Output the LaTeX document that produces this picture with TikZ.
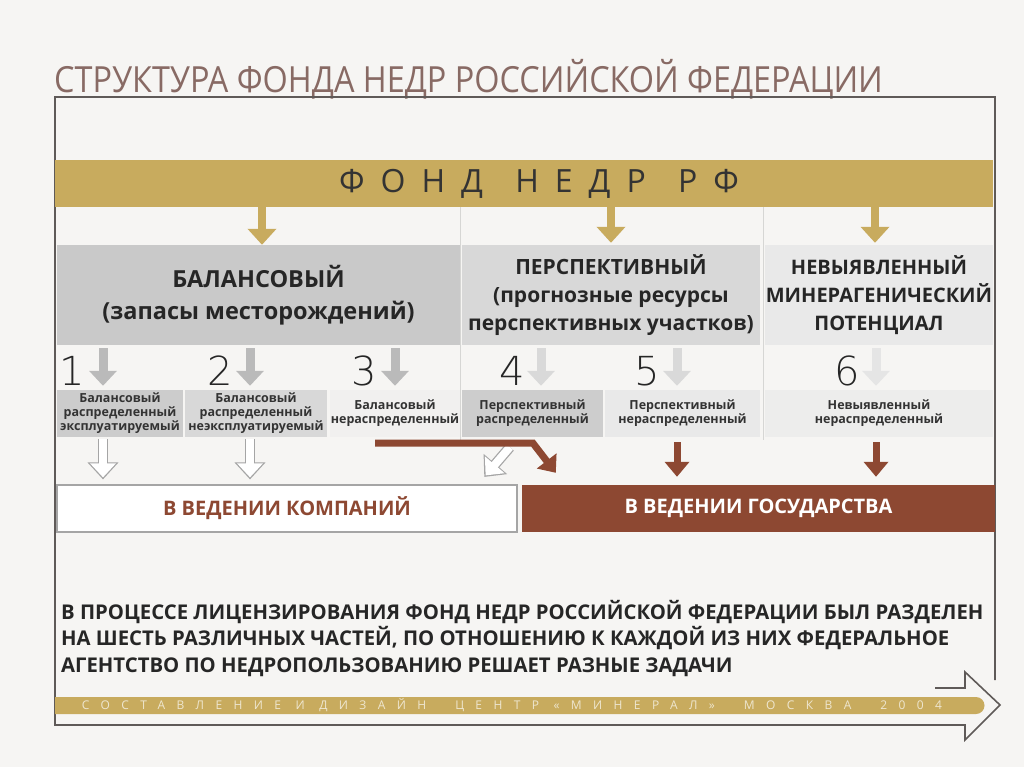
\documentclass[tikz,border=0pt]{standalone}
\usepackage{fontspec}
\setmainfont{Open Sans}
\newfontfamily\titlefont[FakeStretch=0.9]{Open Sans}
\newfontfamily\spacedfont[LetterSpace=50]{Open Sans}
\newfontfamily\footfont[LetterSpace=95]{Open Sans}
\newfontfamily\thinfont{DejaVu Sans ExtraLight}
\usetikzlibrary{calc}
\usetikzlibrary{positioning}
\usetikzlibrary{arrows.meta}
\definecolor{bgcol}{RGB}{246,245,243}
\definecolor{goldcol}{RGB}{200,171,94}
\definecolor{browncol}{RGB}{141,72,50}
\definecolor{titlecol}{RGB}{136,106,100}
\definecolor{framecol}{RGB}{95,90,88}
\definecolor{sepcol}{RGB}{214,214,212}
\definecolor{greyA}{RGB}{201,201,201}
\definecolor{greyB}{RGB}{216,216,216}
\definecolor{greyC}{RGB}{233,233,233}
\definecolor{hollowcol}{RGB}{165,165,165}
\tikzstyle{bigbox} = [minimum height=100pt, inner sep=0pt, align=center, text=black!85, font=\bfseries\fontsize{21}{28}\selectfont]
\tikzstyle{smallbox} = [minimum height=47pt, inner sep=0pt, align=center, text=black!80, font=\bfseries\fontsize{12.5}{14}\selectfont]
\tikzstyle{numnode} = [inner sep=0pt, text=black!85, font=\thinfont\fontsize{40}{40}\selectfont]
\tikzstyle{greyarrow} = [line width=9pt, -{Triangle[width=27pt,length=15pt]}]
\tikzstyle{goldarrow} = [goldcol, line width=8pt, -{Triangle[width=28pt,length=16pt]}]
\tikzstyle{brownarrow} = [browncol, line width=7pt, -{Triangle[width=24pt,length=15pt]}]
\tikzstyle{hollow} = [white, line width=8pt, -{Triangle[width=25pt,length=14pt]},
  preaction={draw=hollowcol, line width=10.5pt, -{Triangle[width=30pt,length=17pt]}, shorten >=-2pt}]
\tikzstyle{careof} = [minimum width=0pt, minimum height=47pt, inner sep=0pt, font=\bfseries\fontsize{20}{20}\selectfont]
\begin{document}
\begin{tikzpicture}[x=1pt, y=-1pt]
    \useasboundingbox (0,0) rectangle (1024,767);
    \fill[bgcol] (0,0) rectangle (1024,767);

    % title and frame
    \node[anchor=base west, inner sep=0pt, text=titlecol, font=\titlefont\fontsize{36}{36}\selectfont]
      (title) at (54,93) {СТРУКТУРА ФОНДА НЕДР РОССИЙСКОЙ ФЕДЕРАЦИИ};
    \draw[framecol, line width=1.6pt] (995,680) -- (995,97) -- (55,97) -- (55,725) -- (965,725)
      -- (965,740) -- (1000,705) -- (965,672) -- (965,688) -- (935,688);

    % fund bar
    \node[fill=goldcol, minimum width=938pt, minimum height=47pt, inner sep=0pt, text=black!80,
      font=\spacedfont\fontsize{32}{32}\selectfont] (fund) at (524,183.5)
      {\hspace*{30pt}ФОНД\hspace{8pt} НЕДР\hspace{8pt} РФ};

    % separators
    \draw[sepcol, line width=1pt] (460,207) -- (460,440);
    \draw[sepcol, line width=1pt] (763,207) -- (763,440);

    % main groups
    \node[bigbox, fill=greyA, minimum width=403pt, font=\bfseries\fontsize{23.5}{32}\selectfont]
      (bal) at (258.5,295) {БАЛАНСОВЫЙ\\(запасы месторождений)};
    \node[bigbox, fill=greyB, minimum width=298pt] (persp) at (611,295)
      {ПЕРСПЕКТИВНЫЙ\\(прогнозные ресурсы\\перспективных участков)};
    \node[bigbox, fill=greyC, minimum width=228pt, font=\bfseries\fontsize{20}{28}\selectfont]
      (nevy) at (879,295) {НЕВЫЯВЛЕННЫЙ\\МИНЕРАГЕНИЧЕСКИЙ\\ПОТЕНЦИАЛ};
    \draw[goldarrow] (fund.south -| 262,0) -- (bal.north -| 262,0);
    \draw[goldarrow] (fund.south -| persp.north) -- ($(persp.north)+(0,-2)$);
    \draw[goldarrow] (fund.south -| 875,0) -- ($(nevy.north -| 875,0)+(0,-2)$);

    % six parts
    \node[smallbox, fill=greyA!95!white, minimum width=126pt] (sa) at (120,413.5)
      {Балансовый\\распределенный\\эксплуатируемый};
    \node[smallbox, fill=greyB, minimum width=142pt] (sb) at (256,413.5)
      {Балансовый\\распределенный\\неэксплуатируемый};
    \node[smallbox, fill=bgcol!60!greyC, minimum width=130pt] (sc) at (395,413.5)
      {Балансовый\\нераспределенный};
    \node[smallbox, fill=greyB!95!black, minimum width=141pt] (sd) at (532.5,413.5)
      {Перспективный\\распределенный};
    \node[smallbox, fill=greyC, minimum width=155pt] (se) at (682.5,413.5)
      {Перспективный\\нераспределенный};
    \node[smallbox, fill=greyC!70!bgcol, minimum width=228pt] (sf) at (879,413.5)
      {Невыявленный\\нераспределенный};

    \node[numnode] (n1) at (72,371) {1};
    \node[numnode] (n2) at (220,371) {2};
    \node[numnode] (n3) at (364,371) {3};
    \node[numnode] (n4) at (512,371) {4};
    \node[numnode] (n5) at (647,371) {5};
    \node[numnode] (n6) at (847,371) {6};

    \draw[greyarrow, black!27] ($(bal.south -| sa.north)+(-17,3)$) -- ($(sa.north)+(-17,-4)$);
    \draw[greyarrow, black!27] ($(bal.south -| sb.north)+(-6,3)$) -- ($(sb.north)+(-6,-4)$);
    \draw[greyarrow, black!27] ($(bal.south -| sc.north)+(0,3)$) -- ($(sc.north)+(0,-4)$);
    \draw[greyarrow, black!15] ($(persp.south -| sd.north)+(8.5,3)$) -- ($(sd.north)+(8.5,-4)$);
    \draw[greyarrow, black!15] ($(persp.south -| se.north)+(-5.5,3)$) -- ($(se.north)+(-5.5,-4)$);
    \draw[greyarrow, black!10] ($(nevy.south -| sf.north)+(-3,3)$) -- ($(sf.north)+(-3,-4)$);

    % who manages
    \node[careof, draw=hollowcol, line width=1.2pt, fill=white, minimum width=460pt, text=browncol]
      (comp) at (287,508.5) {В ВЕДЕНИИ КОМПАНИЙ};
    \node[careof, fill=browncol, minimum width=473pt, text=white]
      (state) at (758.5,508.5) {В ВЕДЕНИИ ГОСУДАРСТВА};

    \draw[hollow] ($(sa.south)+(-17,2)$) -- ($(comp.north -| sa.south)+(-17,-7)$);
    \draw[hollow] ($(sb.south)+(-6,2)$) -- ($(comp.north -| sb.south)+(-6,-7)$);
    \draw[hollow] ($(sd.south west)+(48,10)$) -- ($(comp.north east)+(-32,-9)$);
    \draw[brownarrow] ($(sc.south)+(-20,6)$) -- ($(sc.south)+(138,6)$) -- ($(state.north west)+(34,-12)$);
    \draw[brownarrow] ($(se.south)+(-5.5,5)$) -- ($(state.north -| se.south)+(-5.5,-8)$);
    \draw[brownarrow] ($(sf.south)+(-3,5)$) -- ($(state.north -| sf.south)+(-3,-8)$);

    % note
    \node[anchor=north west, inner sep=0pt, align=left, text=black!85,
      font=\bfseries\fontsize{20.3}{26.5}\selectfont] (note) at (61,600)
      {В ПРОЦЕССЕ ЛИЦЕНЗИРОВАНИЯ ФОНД НЕДР РОССИЙСКОЙ ФЕДЕРАЦИИ БЫЛ РАЗДЕЛЕН\\
       НА ШЕСТЬ РАЗЛИЧНЫХ ЧАСТЕЙ, ПО ОТНОШЕНИЮ К КАЖДОЙ ИЗ НИХ ФЕДЕРАЛЬНОЕ\\
       АГЕНТСТВО ПО НЕДРОПОЛЬЗОВАНИЮ РЕШАЕТ РАЗНЫЕ ЗАДАЧИ};

    % footer band
    \fill[goldcol] (55,697) -- (976,697) arc[start angle=-90, end angle=90, radius=8.5] -- (55,714) -- cycle;
    \node[inner sep=0pt, text=white!70!goldcol, font=\footfont\fontsize{12}{12}\selectfont]
      (credit) at (512,705.5) {СОСТАВЛЕНИЕ И ДИЗАЙН \ ЦЕНТР «МИНЕРАЛ» \ МОСКВА \ 2004};
\end{tikzpicture}
\end{document}
